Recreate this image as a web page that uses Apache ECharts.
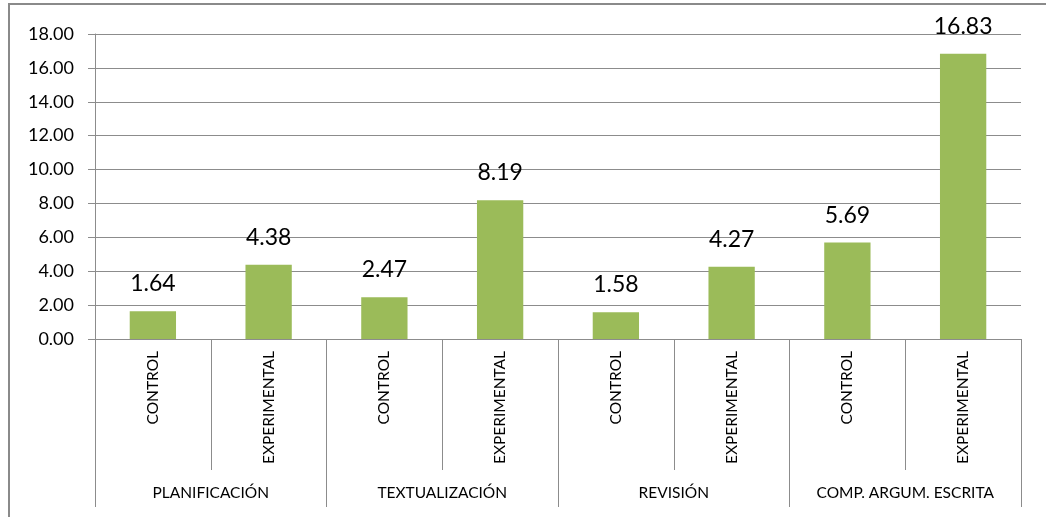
<!DOCTYPE html>
<html><head><meta charset="utf-8">
<script src="https://cdn.jsdelivr.net/npm/echarts@6/dist/echarts.min.js"></script>
<style>html,body{margin:0;padding:0;background:#fff}#c{width:1046px;height:517px}</style>
</head><body><div id="c"></div>
<script>
const groups = ['PLANIFICACIÓN', 'TEXTUALIZACIÓN', 'REVISIÓN', 'COMP. ARGUM. ESCRITA'];
const subgroups = ['CONTROL', 'EXPERIMENTAL'];
const controlValues = [1.64, 2.47, 1.58, 5.69];
const experimentalValues = [4.38, 8.19, 4.27, 16.83];
const yTicks = [0, 2, 4, 6, 8, 10, 12, 14, 16, 18];

const cats = [], vals = [];
groups.forEach((g, i) => {
  cats.push(subgroups[0]); vals.push(controlValues[i]);
  cats.push(subgroups[1]); vals.push(experimentalValues[i]);
});
const font = 'Lato, "Open Sans", sans-serif';
const lineColor = '#8c8c8c';
const chart = echarts.init(document.getElementById('c'));
chart.setOption({
  animation: false,
  textStyle: { fontFamily: font },
  grid: { left: 95, right: 25, top: 34, bottom: 178 },
  graphic: [{
    type: 'rect', shape: { x: 9, y: 4, width: 1200, height: 700 },
    style: { fill: 'none', stroke: '#8a8a8a', lineWidth: 2 }, silent: true
  }],
  xAxis: [{
    type: 'category', data: cats, position: 'bottom',
    axisLine: { show: true, lineStyle: { color: lineColor, width: 1 } },
    axisTick: { show: true, interval: 0, length: 131, lineStyle: { color: lineColor } },
    axisLabel: { interval: 0, rotate: 90, margin: 12, fontSize: 15.5, color: '#000', fontFamily: font }
  }, {
    type: 'category', data: groups, position: 'bottom',
    axisLine: { show: false },
    axisTick: { show: true, interval: 0, length: 168, lineStyle: { color: lineColor } },
    axisLabel: { interval: 0, margin: 146, fontSize: 15.5, color: '#000', fontFamily: font }
  }],
  yAxis: {
    type: 'value', min: yTicks[0], max: yTicks[yTicks.length - 1], interval: 2,
    axisLine: { show: true, lineStyle: { color: lineColor } },
    axisTick: { show: true, length: 7, lineStyle: { color: lineColor } },
    axisLabel: { formatter: v => v.toFixed(2), fontSize: 18, color: '#000', margin: 21, fontFamily: font },
    splitLine: { show: true, lineStyle: { color: lineColor, width: 1 } }
  },
  series: [{
    type: 'bar', data: vals, xAxisIndex: 0, barWidth: '40%',
    itemStyle: { color: '#9BBB59' },
    label: { show: true, position: 'top', distance: 16, fontSize: 23, color: '#000',
      fontFamily: font, formatter: p => p.value.toFixed(2) }
  }]
});
</script></body></html>
